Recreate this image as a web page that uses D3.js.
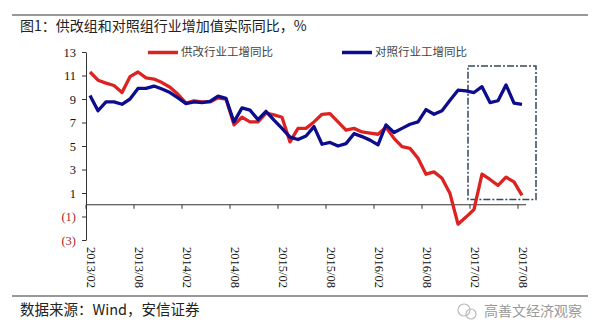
<!DOCTYPE html>
<html>
<head>
<meta charset="utf-8">
<script src="https://cdn.jsdelivr.net/npm/d3@7"></script>
<style>
  body { margin: 0; background: #fff; }
  svg { display: block; }
</style>
</head>
<body>
<div id="chart"></div>
<script>
// monthly categories, 2013/02 .. 2017/08
var months = [
  "2013/02","2013/03","2013/04","2013/05","2013/06","2013/07","2013/08","2013/09","2013/10","2013/11","2013/12",
  "2014/01","2014/02","2014/03","2014/04","2014/05","2014/06","2014/07","2014/08","2014/09","2014/10","2014/11","2014/12",
  "2015/01","2015/02","2015/03","2015/04","2015/05","2015/06","2015/07","2015/08","2015/09","2015/10","2015/11","2015/12",
  "2016/01","2016/02","2016/03","2016/04","2016/05","2016/06","2016/07","2016/08","2016/09","2016/10","2016/11","2016/12",
  "2017/01","2017/02","2017/03","2017/04","2017/05","2017/06","2017/07","2017/08"
];
var tickMonths = ["2013/02","2013/08","2014/02","2014/08","2015/02","2015/08","2016/02","2016/08","2017/02","2017/08"];
var yTicks = [13, 11, 9, 7, 5, 3, 1, -1, -3];

var seriesNames = ["供改行业工增同比", "对照行业工增同比"];

var reformSeries = [
  11.3, 10.6, 10.35, 10.15, 9.55, 10.9, 11.3, 10.8, 10.7, 10.4, 10.0,
  9.4, 8.65, 8.85, 8.75, 8.75, 9.1, 9.0, 6.8, 7.45, 7.05, 7.05, 7.8,
  7.65, 7.45, 5.35, 6.5, 6.5, 7.05, 7.7, 7.75, 7.05, 6.35, 6.5, 6.2,
  6.1, 6.0, 6.6, 5.65, 4.95, 4.8, 3.95, 2.6, 2.8, 2.25, 0.95, -1.65,
  -1.05, -0.4, 2.6, 2.15, 1.65, 2.35, 1.95, 0.8
];
var controlSeries = [
  9.3, 8.0, 8.75, 8.75, 8.55, 9.0, 9.9, 9.9, 10.1, 9.85, 9.55,
  9.1, 8.6, 8.75, 8.7, 8.8, 9.25, 9.05, 7.05, 8.25, 8.05, 7.25, 7.95,
  7.2, 6.5, 5.75, 5.55, 5.85, 6.65, 5.15, 5.3, 5.0, 5.2, 6.05, 5.8,
  5.5, 5.1, 6.8, 6.15, 6.5, 6.85, 7.05, 8.1, 7.7, 8.0, 8.9, 9.75,
  9.7, 9.55, 10.05, 8.7, 8.85, 10.2, 8.65, 8.55
];

// highlighted stretch of 2017
var boxMonths = ["2017/02", "2017/08"];
var boxRange = [0.45, 11.8];

var svgWidth = 600;
var svgHeight = 336;

var margin = {
  top: 52,
  right: 74,
  bottom: 96,
  left: 86
};

var width = svgWidth - margin.left - margin.right;
var height = svgHeight - margin.top - margin.bottom;

var cjk = "'Noto Sans CJK SC', 'Noto Sans', sans-serif";
var serif = "'Liberation Serif', 'DejaVu Serif', serif";

var svg = d3.select("#chart")
  .append("svg")
  .attr("width", svgWidth)
  .attr("height", svgHeight);

// header / footer rules
svg.append("line")
  .attr("x1", 12).attr("x2", 588)
  .attr("y1", 15).attr("y2", 15)
  .attr("stroke", "#333")
  .attr("stroke-width", 1.2);

svg.append("line")
  .attr("x1", 12).attr("x2", 588)
  .attr("y1", 296).attr("y2", 296)
  .attr("stroke", "#333")
  .attr("stroke-width", 1.2);

svg.append("text")
  .attr("x", 20)
  .attr("y", 27)
  .attr("dominant-baseline", "middle")
  .attr("font-family", cjk)
  .attr("font-size", "14px")
  .attr("fill", "#222")
  .text("图1：供改组和对照组行业增加值实际同比，%");

svg.append("text")
  .attr("x", 20)
  .attr("y", 311)
  .attr("dominant-baseline", "middle")
  .attr("font-family", cjk)
  .attr("font-size", "14.5px")
  .attr("fill", "#222")
  .text("数据来源：Wind，安信证券");

// watermark
var mark = svg.append("g").attr("transform", "translate(467, 311)");
mark.append("circle").attr("r", 6).attr("cx", -3).attr("cy", -1)
  .attr("fill", "none").attr("stroke", "#bbb").attr("stroke-width", 1.2);
mark.append("circle").attr("r", 5).attr("cx", 4).attr("cy", 3)
  .attr("fill", "none").attr("stroke", "#bbb").attr("stroke-width", 1.2);
svg.append("text")
  .attr("x", 484)
  .attr("y", 312)
  .attr("dominant-baseline", "middle")
  .attr("font-family", cjk)
  .attr("font-size", "14px")
  .attr("fill", "#999")
  .text("高善文经济观察");

var chartGroup = svg.append("g")
  .attr("transform", `translate(${margin.left}, ${margin.top})`);

// scales
var xScale = d3.scaleBand()
  .domain(months)
  .range([0, width]);

var yScale = d3.scaleLinear()
  .domain([-3, 13])
  .range([height, 0]);

var bw = xScale.bandwidth();

// y axis, negatives shown in brackets
var yAxis = d3.axisLeft(yScale)
  .tickValues(yTicks)
  .tickSize(4)
  .tickSizeOuter(0)
  .tickPadding(6)
  .tickFormat(d => d < 0 ? "(" + (-d) + ")" : d);

var yAxisGroup = chartGroup.append("g")
  .attr("class", "y_axis")
  .call(yAxis);

yAxisGroup.select(".domain").attr("stroke", "#333");
yAxisGroup.selectAll(".tick line").attr("stroke", "#333");
yAxisGroup.selectAll(".tick text")
  .attr("font-family", serif)
  .attr("font-size", "12.5px")
  .attr("fill", d => d < 0 ? "#a52a2a" : "#111");

// zero line with month ticks
chartGroup.append("line")
  .attr("x1", 0).attr("x2", width)
  .attr("y1", yScale(0)).attr("y2", yScale(0))
  .attr("stroke", "#333");

chartGroup.selectAll(".x_tick")
  .data(tickMonths)
  .enter()
  .append("line")
  .attr("class", "x_tick")
  .attr("x1", d => xScale(d)).attr("x2", d => xScale(d))
  .attr("y1", yScale(0)).attr("y2", yScale(0) + 4)
  .attr("stroke", "#333");

chartGroup.selectAll(".x_label")
  .data(tickMonths)
  .enter()
  .append("text")
  .attr("class", "x_label")
  .attr("transform", d => `translate(${xScale(d) + bw / 2}, ${height + 7}) rotate(90)`)
  .attr("dominant-baseline", "middle")
  .attr("font-family", serif)
  .attr("font-size", "12.5px")
  .attr("fill", "#111")
  .text(d => d);

// dashed highlight box
var boxX0 = xScale(boxMonths[0]) - 2;
var boxX1 = xScale(boxMonths[1]) + bw + 10;
chartGroup.append("rect")
  .attr("x", boxX0)
  .attr("y", yScale(boxRange[1]))
  .attr("width", boxX1 - boxX0)
  .attr("height", yScale(boxRange[0]) - yScale(boxRange[1]))
  .attr("fill", "none")
  .attr("stroke", "#34485c")
  .attr("stroke-width", 1.5)
  .attr("stroke-dasharray", "7,2,2,2");

// lines
var line = d3.line()
  .x((d, i) => xScale(months[i]) + bw / 2)
  .y(d => yScale(d));

var colors = ["#dd2222", "#0c0c8c"];

[reformSeries, controlSeries].forEach(function (series, i) {
  chartGroup.append("path")
    .datum(series)
    .attr("d", line)
    .attr("fill", "none")
    .attr("stroke", colors[i])
    .attr("stroke-width", 3.3)
    .attr("stroke-linejoin", "round");
});

// legend
var legendX = [62, 256];
seriesNames.forEach(function (name, i) {
  var lg = chartGroup.append("g")
    .attr("transform", `translate(${legendX[i]}, 0.5)`);
  lg.append("line")
    .attr("x1", 0).attr("x2", 30)
    .attr("stroke", colors[i])
    .attr("stroke-width", 3.5);
  lg.append("text")
    .attr("x", 33)
    .attr("dominant-baseline", "middle")
    .attr("font-family", cjk)
    .attr("font-size", "11.5px")
    .attr("fill", "#444")
    .text(name);
});
</script>
</body>
</html>
